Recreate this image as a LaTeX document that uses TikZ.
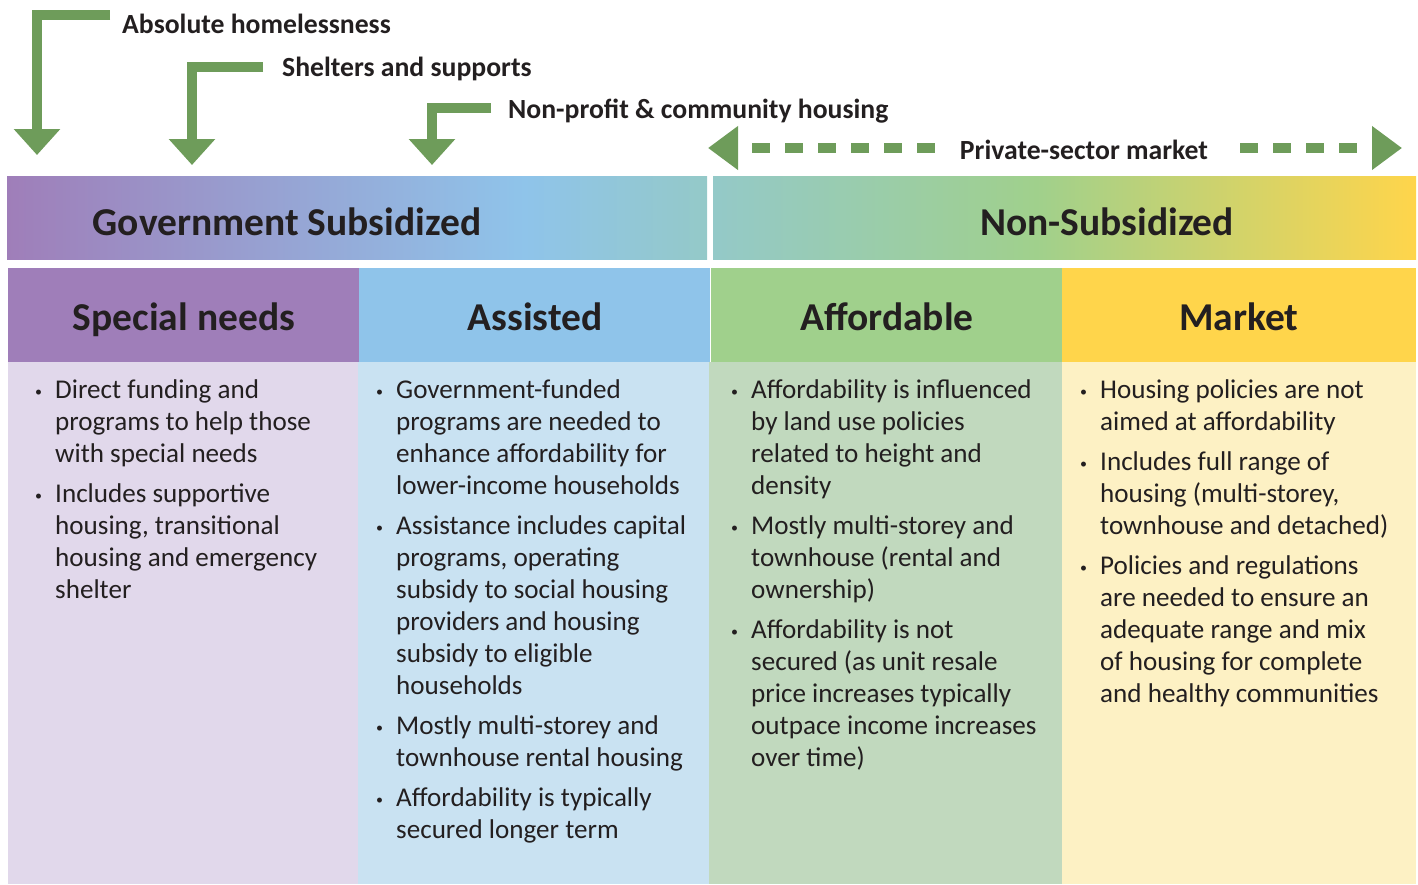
\documentclass[tikz,border=0pt]{standalone}
\usepackage{fontspec}
\setmainfont{Carlito}
\usetikzlibrary{arrows.meta}
\definecolor{arrowgreen}{RGB}{110,156,90}
\definecolor{inkdark}{RGB}{35,31,32}
\definecolor{specpurple}{RGB}{159,126,185}
\definecolor{assistblue}{RGB}{143,196,234}
\definecolor{affgreen}{RGB}{160,208,140}
\definecolor{mktyellow}{RGB}{255,213,75}
\definecolor{midteal}{RGB}{148,201,200}
\definecolor{specbg}{RGB}{225,216,235}
\definecolor{assistbg}{RGB}{201,226,242}
\definecolor{affbg}{RGB}{193,217,190}
\definecolor{mktbg}{RGB}{253,241,196}
\pgfdeclarehorizontalshading{govshade}{100bp}{color(0bp)=(specpurple); color(25bp)=(specpurple); color(62bp)=(assistblue); color(75bp)=(midteal); color(100bp)=(midteal)}
\pgfdeclarehorizontalshading{nonshade}{100bp}{color(0bp)=(midteal); color(25bp)=(midteal); color(48bp)=(affgreen); color(75bp)=(mktyellow); color(100bp)=(mktyellow)}
\newcommand{\bul}{\par\hangindent=20pt\hangafter=1\noindent\makebox[20pt][l]{\raisebox{2pt}{\fontsize{14}{14}\selectfont\textbullet}}}
\newcommand{\bodybox}[1]{\begin{minipage}[t]{340pt}\setlength{\parskip}{8pt}#1\end{minipage}}

\begin{document}
\begin{tikzpicture}[x=1pt,y=-1pt,
    homearrow/.style={arrowgreen,line width=10pt,-{Triangle[width=45pt,length=26pt]}},
    marketarrow/.style={arrowgreen,line width=10pt,dash pattern=on 18pt off 15pt,-{Triangle[width=42pt,length=30pt]}},
    toplabel/.style={inkdark,inner sep=0pt,font=\bfseries\fontsize{27.7}{30}\selectfont},
    bighead/.style={inkdark,inner sep=0pt,anchor=base,font=\bfseries\fontsize{39.5}{42}\selectfont},
    colhead/.style={minimum width=351pt,minimum height=94pt,inner sep=0pt},
    bodytext/.style={inkdark,anchor=base west,inner sep=0pt,font=\fontsize{27.1}{32}\selectfont}]
  \useasboundingbox (0,0) rectangle (1418,884);
  \node[toplabel,anchor=base west] (absl) at (122,33) {Absolute homelessness};
  \node[toplabel,anchor=base west] (shel) at (282,76) {Shelters and supports};
  \node[toplabel,anchor=base west] (nonp) at (508,118) {Non-profit \& community housing};
  \coordinate (tipA) at (37,155);
  \coordinate (tipB) at (192,165);
  \coordinate (tipC) at (432,165);
  \draw[homearrow] ([shift={(-12,-18)}]absl.base west) -| (tipA);
  \draw[homearrow] ([shift={(-19,-9.5)}]shel.base west) -| (tipB);
  \draw[homearrow] ([shift={(-17,-10)}]nonp.base west) -| (tipC);
  \node[toplabel,anchor=base] (pvt) at (1084,159) {Private-sector market};
  \coordinate (pvtL) at (708,148);
  \coordinate (pvtR) at (1402,148);
  \draw[marketarrow] ([xshift=-25pt]pvt.west |- pvtL) -- (pvtL);
  \draw[marketarrow] ([xshift=32pt]pvt.east |- pvtR) -- (pvtR);
  \shade[shading=govshade] (7,176) rectangle (707,259);
  \shade[shading=nonshade] (713,176) rectangle (1416,259);
  \node[bighead] (gov) at (287,235) {Government Subsidized};
  \node[bighead] (nonsub) at (1107,235) {Non-Subsidized};
  \node[colhead,fill=specpurple] (specbox) at (183,315) {};
  \node[colhead,fill=assistblue] (assistbox) at (534,315) {};
  \node[colhead,fill=affgreen] (affbox) at (886,315) {};
  \node[colhead,fill=mktyellow,minimum width=354pt] (mktbox) at (1239,315) {};
  \node[bighead] (spechead) at (184,330) {Special needs};
  \node[bighead] (assisthead) at (535,330) {Assisted};
  \node[bighead] (affhead) at (887,330) {Affordable};
  \node[bighead] (mkthead) at (1239,330) {Market};
  \fill[specbg] (8,362) rectangle (358,884);
  \fill[assistbg] (358,362) rectangle (709,884);
  \fill[affbg] (709,362) rectangle (1062,884);
  \fill[mktbg] (1062,362) rectangle (1416,884);
  \node[bodytext] (specbody) at (35,398) {\bodybox{\bul Direct funding and\\ programs to help those\\ with special needs
    \bul Includes supportive\\ housing, transitional\\ housing and emergency\\ shelter}};
  \node[bodytext] (assistbody) at (376,398) {\bodybox{\bul Government-funded\\ programs are needed to\\ enhance affordability for\\ lower-income households
    \bul Assistance includes capital\\ programs, operating\\ subsidy to social housing\\ providers and housing\\ subsidy to eligible\\ households
    \bul Mostly multi-storey and\\ townhouse rental housing
    \bul Affordability is typically\\ secured longer term}};
  \node[bodytext] (affbody) at (731,398) {\bodybox{\bul Affordability is influenced\\ by land use policies\\ related to height and\\ density
    \bul Mostly multi-storey and\\ townhouse (rental and\\ ownership)
    \bul Affordability is not\\ secured (as unit resale\\ price increases typically\\ outpace income increases\\ over time)}};
  \node[bodytext] (mktbody) at (1080,398) {\bodybox{\bul Housing policies are not\\ aimed at affordability
    \bul Includes full range of\\ housing (multi-storey,\\ townhouse and detached)
    \bul Policies and regulations\\ are needed to ensure an\\ adequate range and mix\\ of housing for complete\\ and healthy communities}};
\end{tikzpicture}
\end{document}
